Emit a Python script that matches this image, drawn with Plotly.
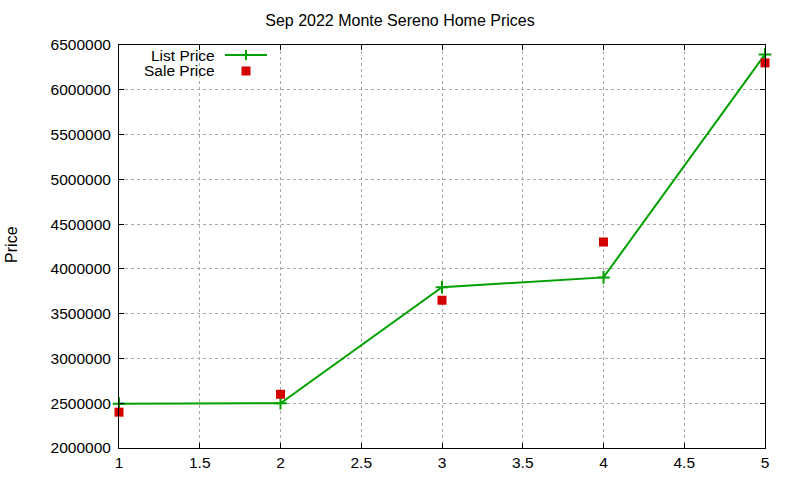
import plotly.graph_objects as go

# Sep 2022 Monte Sereno home prices
listing = [1, 2, 3, 4, 5]
list_price = [2495000, 2500000, 3795000, 3905000, 6395000]
sale_price = [2400000, 2600000, 3650000, 4300000, 6300000]

x_ticks = [1, 1.5, 2, 2.5, 3, 3.5, 4, 4.5, 5]
y_ticks = list(range(2000000, 6500001, 500000))

GREEN = "#00a000"
RED = "#d40000"
FONT = "Liberation Sans, Arial, sans-serif"

fig = go.Figure()

fig.add_trace(go.Scatter(
    x=listing, y=list_price,
    mode="lines+markers", name="List Price",
    line=dict(color=GREEN, width=2),
    marker=dict(symbol="cross-thin", size=9, line=dict(color=GREEN, width=2)),
    cliponaxis=False,
))
fig.add_trace(go.Scatter(
    x=listing, y=sale_price,
    mode="markers", name="Sale Price",
    marker=dict(symbol="square", size=9, color=RED),
    cliponaxis=False,
))

axis_common = dict(
    showline=True, linecolor="black", linewidth=1, mirror="ticks",
    ticks="inside", ticklen=5, tickcolor="black",
    showgrid=True, gridcolor="#a8a8a8", griddash="dot", gridwidth=1,
    zeroline=False, automargin=False,
    tickfont=dict(size=15.5, color="black", family=FONT),
)

fig.update_xaxes(range=[1, 5], tickvals=x_ticks,
                 ticktext=[f"{v:g}" for v in x_ticks], **axis_common)
fig.update_yaxes(range=[2000000, 6500000], tickvals=y_ticks,
                 ticktext=[str(v) for v in y_ticks], ticklabelstandoff=4,
                 **axis_common)

# y axis label, placed like gnuplot's ylabel
fig.add_annotation(x=-0.1656, y=0.504, xref="paper", yref="paper",
                   text="Price", textangle=-90, showarrow=False,
                   xanchor="center", yanchor="middle",
                   font=dict(size=16, color="black", family=FONT))

# gnuplot-style key: label on the left, sample on the right
key_x_text = 0.1517
key_x_sample = 0.1966
key_rows = [0.975, 0.9355]
for label, row in zip(["List Price", "Sale Price"], key_rows):
    fig.add_annotation(x=key_x_text, y=row, xref="paper", yref="paper",
                       text=label, showarrow=False,
                       xanchor="right", yanchor="middle",
                       font=dict(size=15.5, color="black", family=FONT))
fig.add_shape(type="line", xref="paper", yref="paper",
              x0=0.164, x1=0.229, y0=key_rows[0], y1=key_rows[0],
              line=dict(color=GREEN, width=2))
fig.add_shape(type="line", xref="paper", yref="paper",
              xsizemode="pixel", xanchor=key_x_sample, x0=0, x1=0,
              ysizemode="pixel", yanchor=key_rows[0], y0=-5, y1=5,
              line=dict(color=GREEN, width=2))
fig.add_shape(type="rect", xref="paper", yref="paper",
              xsizemode="pixel", xanchor=key_x_sample, x0=-4.5, x1=4.5,
              ysizemode="pixel", yanchor=key_rows[1], y0=-4.5, y1=4.5,
              fillcolor=RED, line=dict(width=0))

fig.update_layout(
    title=dict(text="Sep 2022 Monte Sereno Home Prices", x=0.5, xanchor="center",
               y=1 - 20 / 480, yanchor="middle",
               font=dict(size=16, color="black", family=FONT)),
    width=800, height=480,
    margin=dict(l=119, r=35, t=45, b=32),
    plot_bgcolor="white", paper_bgcolor="white",
    showlegend=False,
    font=dict(family=FONT, color="black"),
)

# drop the default 8px page margin so the figure fills the window
fig.write_html("out.html",
               config={"displayModeBar": False},
               post_script="document.body.style.margin='0';"
                           "document.body.style.overflow='hidden';")
